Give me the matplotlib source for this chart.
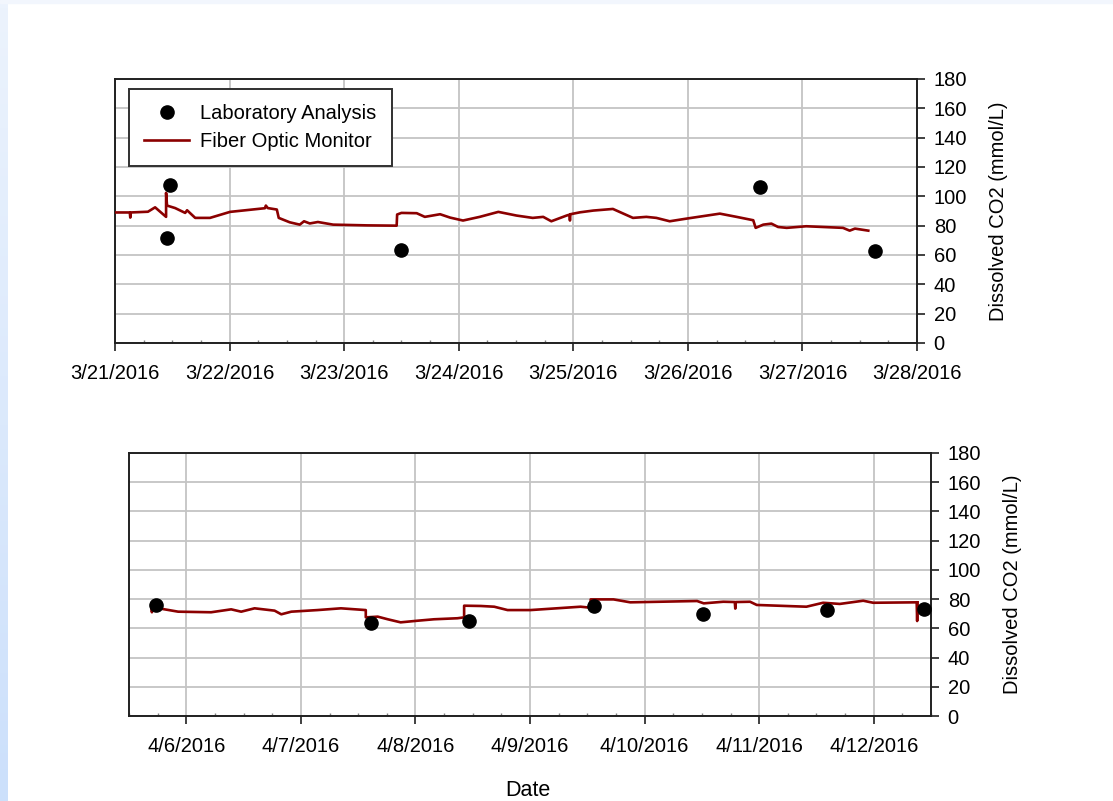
import matplotlib
matplotlib.use("Agg")
import numpy as np
import pandas as pd
import matplotlib.pyplot as plt
import matplotlib.dates as mdates
from matplotlib.ticker import FuncFormatter, MultipleLocator

plt.rcParams["font.family"] = ["Liberation Sans", "DejaVu Sans"]
plt.rcParams["font.size"] = 14.5

# --- run 1: 3/21 - 3/28 (hours after midnight 3/21/2016) ---
run1_start = "2016-03-21"
run1_hours = [0.0, 3.1, 3.2, 3.3, 6.9, 8.4, 10.7, 10.7, 10.9, 12.6, 14.7, 15.1,
              16.8, 19.9, 24.1, 31.4, 31.6, 32.0, 33.9, 34.3, 36.6, 38.7, 39.6,
              40.8, 42.5, 45.7, 52.8, 59.0, 59.1, 60.0, 63.2, 64.9, 68.1, 70.2,
              72.9, 76.4, 80.3, 84.1, 87.5, 89.7, 91.4, 94.6, 95.2, 95.3, 95.4,
              97.4, 100.2, 104.3, 108.5, 111.3, 113.4, 116.2, 119.7, 126.7,
              130.2, 133.7, 134.2, 135.8, 137.5, 138.9, 140.7, 144.8, 149.7,
              152.5, 153.9, 155.0, 157.8]
run1_co2 = [89.0, 89.0, 85.5, 89.0, 89.5, 92.5, 86.0, 102.4, 93.7, 92.0, 88.7,
            90.5, 85.3, 85.3, 89.4, 91.9, 93.7, 92.0, 91.0, 85.3, 82.3, 80.7,
            83.0, 81.5, 82.5, 80.7, 80.2, 80.0, 87.6, 88.7, 88.5, 86.0, 87.8,
            85.5, 83.5, 86.0, 89.4, 86.9, 85.3, 86.0, 83.0, 86.9, 87.5, 83.5,
            87.8, 89.1, 90.3, 91.4, 85.3, 86.0, 85.3, 83.0, 84.8, 88.2, 86.0,
            83.7, 78.5, 80.7, 81.4, 79.1, 78.5, 79.6, 78.9, 78.5, 76.6, 78.0,
            76.6]
run1_lab_hours = [11.5, 10.9, 59.9, 135.1, 159.2]
run1_lab_co2 = [107.4, 71.8, 63.6, 106.7, 62.9]

# --- run 2: 4/5 - 4/12 (hours after midnight 4/6/2016) ---
run2_start = "2016-04-06"
run2_hours = [-7.3, -7.2, -7.1, -6.9, -4.9, -1.7, 5.2, 9.4, 11.5, 14.3, 18.5,
              19.9, 22.0, 27.5, 32.4, 37.6, 37.6, 40.1, 42.2, 44.9, 48.4, 51.9,
              56.8, 58.2, 58.2, 61.7, 64.5, 67.3, 72.1, 82.6, 84.7, 84.7, 89.5,
              93.0, 107.0, 108.4, 112.5, 114.9, 115.0, 115.1, 118.1, 119.5,
              129.9, 133.4, 136.9, 141.8, 143.9, 153.0, 153.1, 153.2]
run2_co2 = [76.0, 71.0, 76.0, 75.0, 73.2, 71.4, 71.0, 73.0, 71.4, 73.7, 72.1,
            69.6, 71.4, 72.5, 73.7, 72.5, 67.5, 68.0, 66.2, 64.1, 65.2, 66.2,
            66.9, 67.5, 75.5, 75.3, 74.8, 72.5, 72.5, 74.8, 74.1, 79.8, 79.8,
            77.8, 78.7, 77.1, 78.2, 78.0, 73.5, 78.0, 78.2, 76.0, 74.8, 77.5,
            76.7, 78.9, 77.5, 77.8, 65.0, 77.8]
run2_lab_hours = [-6.3, 38.7, 59.2, 85.5, 108.3, 134.2, 154.5]
run2_lab_co2 = [76.0, 63.7, 65.0, 75.3, 69.8, 72.5, 73.2]

LINE_COLOR = "#8b0000"
GRID_COLOR = "#c4c4c4"


def to_dates(start, hours):
    return pd.Timestamp(start) + pd.to_timedelta(np.array(hours), unit="h")


def date_label(x, pos):
    d = mdates.num2date(x)
    return f"{d.month}/{d.day}/{d.year}"


def draw_panel(ax, start, hours, co2, lab_hours, lab_co2, xmin, xmax, legend=False):
    ax.plot(to_dates(start, hours), co2, color=LINE_COLOR, lw=1.9,
            label="Fiber Optic Monitor", zorder=3)
    ax.plot(to_dates(start, lab_hours), lab_co2, "o", color="black",
            markersize=9.5, label="Laboratory Analysis", zorder=4)

    ax.set_xlim(pd.Timestamp(xmin), pd.Timestamp(xmax))
    ax.set_ylim(0, 180)
    ax.yaxis.set_major_locator(MultipleLocator(20))
    ax.xaxis.set_major_locator(mdates.DayLocator())
    ax.xaxis.set_minor_locator(mdates.HourLocator(byhour=[0, 6, 12, 18]))
    ax.xaxis.set_major_formatter(FuncFormatter(date_label))

    ax.yaxis.tick_right()
    ax.yaxis.set_label_position("right")
    ax.set_ylabel("Dissolved CO2 (mmol/L)", labelpad=16)

    ax.tick_params(axis="y", which="major", direction="out", length=6,
                   width=1.2, color="#202020", pad=6, labelsize=14.5)
    ax.tick_params(axis="x", which="major", direction="out", length=6,
                   width=1.2, color="#202020", pad=9, labelsize=14.5)
    ax.tick_params(axis="x", which="minor", direction="in", length=2,
                   width=1.0, color="#808080")

    ax.grid(True, which="major", color=GRID_COLOR, lw=1.3)
    ax.set_axisbelow(True)
    for side in ["left", "right", "top", "bottom"]:
        ax.spines[side].set_linewidth(1.4)
        ax.spines[side].set_color("#202020")

    if legend:
        handles, labels = ax.get_legend_handles_labels()
        leg = ax.legend(handles[::-1], labels[::-1], loc="upper left",
                        bbox_to_anchor=(14 / 802, 1 - 10 / 264),
                        borderaxespad=0, fontsize=14.5,
                        frameon=True, fancybox=False, framealpha=1,
                        handlelength=2.25, handletextpad=0.55,
                        borderpad=0.75, labelspacing=0.45)
        leg.get_frame().set_edgecolor("#303030")
        leg.get_frame().set_linewidth(1.4)


fig = plt.figure(figsize=(11.13, 8.01), dpi=100)

# light blue frame along the left and top edges of the page
edge = fig.add_axes([0, 0, 8 / 1113, 1])
edge.imshow(np.linspace(0, 1, 100).reshape(-1, 1), aspect="auto",
            cmap=matplotlib.colors.LinearSegmentedColormap.from_list(
                "edge", ["#ecf3fd", "#cce0fb"]), extent=[0, 1, 0, 1],
            origin="upper")
edge.set_axis_off()
fig.patches.append(plt.Rectangle((0, 1 - 3 / 801), 1, 3 / 801,
                                 transform=fig.transFigure,
                                 color="#f2f6fd", zorder=0))

ax1 = fig.add_axes([115 / 1113, 1 - 343 / 801, 802 / 1113, 264 / 801])
draw_panel(ax1, run1_start, run1_hours, run1_co2, run1_lab_hours, run1_lab_co2,
           "2016-03-21", "2016-03-28", legend=True)

ax2 = fig.add_axes([129 / 1113, 1 - 716 / 801, 802 / 1113, 263 / 801])
draw_panel(ax2, run2_start, run2_hours, run2_co2, run2_lab_hours, run2_lab_co2,
           "2016-04-05 12:00", "2016-04-12 12:00")

fig.text(528 / 1113, 1 - 790 / 801, "Date", ha="center", va="center", fontsize=15.5)

fig.savefig("out.png", dpi=100)
